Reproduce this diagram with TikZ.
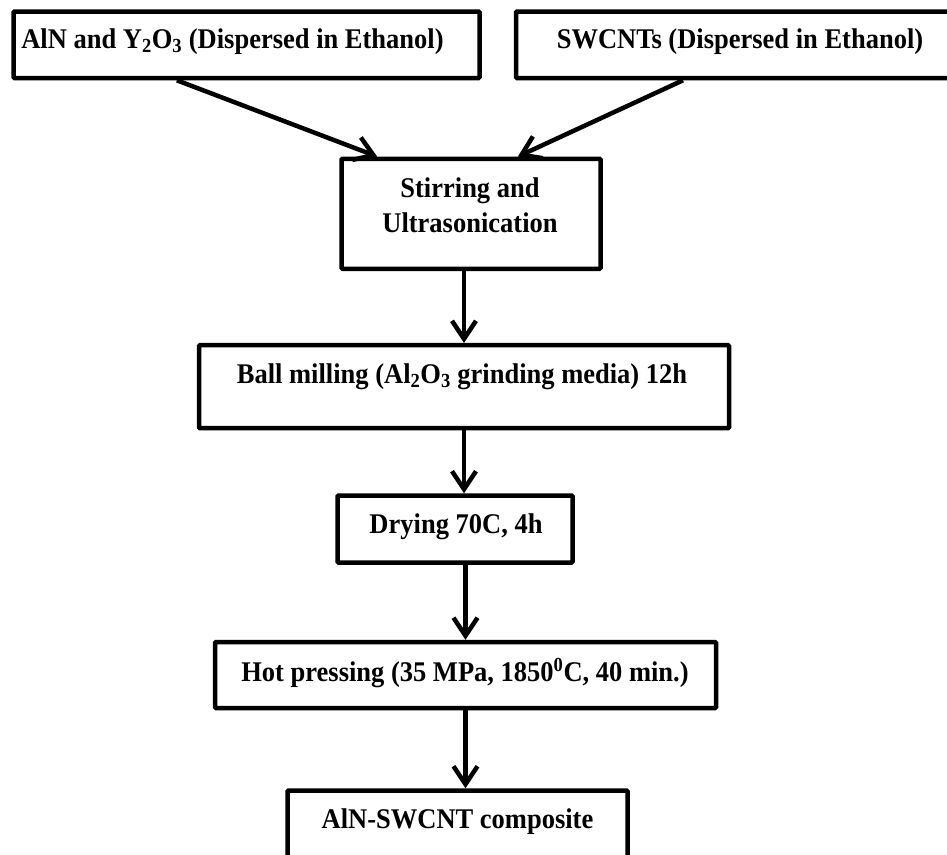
\documentclass[tikz,border=0pt]{standalone}
\usepackage{fontspec}
\setmainfont{Liberation Serif}[FakeStretch=0.93]
\usetikzlibrary{arrows.meta,calc}
\begin{document}
\begin{tikzpicture}[x=1pt,y=-1pt,
  box/.style={draw=black, line width=4.5pt, rounded corners=1pt, inner sep=0pt},
  lbl/.style={font=\fontsize{28.5}{34}\selectfont\bfseries, inner sep=0pt, anchor=base},
  arr/.style={line width=4.5pt, -{Straight Barb[length=18pt,width=24pt]}}]
\useasboundingbox (0,0) rectangle (947,854);
\clip (0,0) rectangle (947,854);
\fill[white] (0,0) rectangle (947,854);
% boxes
\node[box, minimum width=466pt, minimum height=66.5pt] (b1)  at (246.5,44.8) {};
\node[box, minimum width=448pt, minimum height=66.5pt] (b1r) at (740,44.8) {};
\node[box, minimum width=259pt, minimum height=110pt]  (b2)  at (471,213.8) {};
\node[box, minimum width=530pt, minimum height=83pt]   (b3)  at (464,386.7) {};
\node[box, minimum width=235pt, minimum height=67pt]   (b4)  at (455,529) {};
\node[box, minimum width=501pt, minimum height=66pt]   (b5)  at (465.5,675) {};
\node[box, minimum width=340pt, minimum height=80pt]   (b6)  at (457.5,830.5) {};
% texts
\node[lbl] (t1)  at (232.5,48.3) {AlN and Y\textsubscript{2}O\textsubscript{3} (Dispersed in Ethanol)};
\node[lbl] (t1r) at (740,48.3) {SWCNTs (Dispersed in Ethanol)};
\node[lbl] (t2a) at (470,197) {Stirring and};
\node[lbl] (t2b) at (470,232) {Ultrasonication};
\node[lbl] (t3)  at (462,383) {Ball milling (Al\textsubscript{2}O\textsubscript{3} grinding media) 12h};
\node[lbl] (t4)  at (456,533) {Drying 70C, 4h};
\node[lbl] (t5)  at (465,681) {Hot pressing (35 MPa, 1850\textsuperscript{0}C, 40 min.)};
\node[lbl] (t6)  at (457.5,828) {AlN-SWCNT composite};
% connectors
\draw[arr] ($(b1.south west)!0.352!(b1.south east)$) -- ($(b2.north west)!0.144!(b2.north east)$);
\draw[arr] ($(b1r.south west)!0.374!(b1r.south east)$) -- ($(b2.north west)!0.678!(b2.north east)$);
\draw[arr] (b2.south -| b3.north) -- (b3.north);
\draw[arr] (b3.south) -- (b3.south |- b4.north);
\draw[arr] (b4.south -| b5.north) -- (b5.north);
\draw[arr] (b5.south) -- (b5.south |- b6.north);
\end{tikzpicture}
\end{document}
